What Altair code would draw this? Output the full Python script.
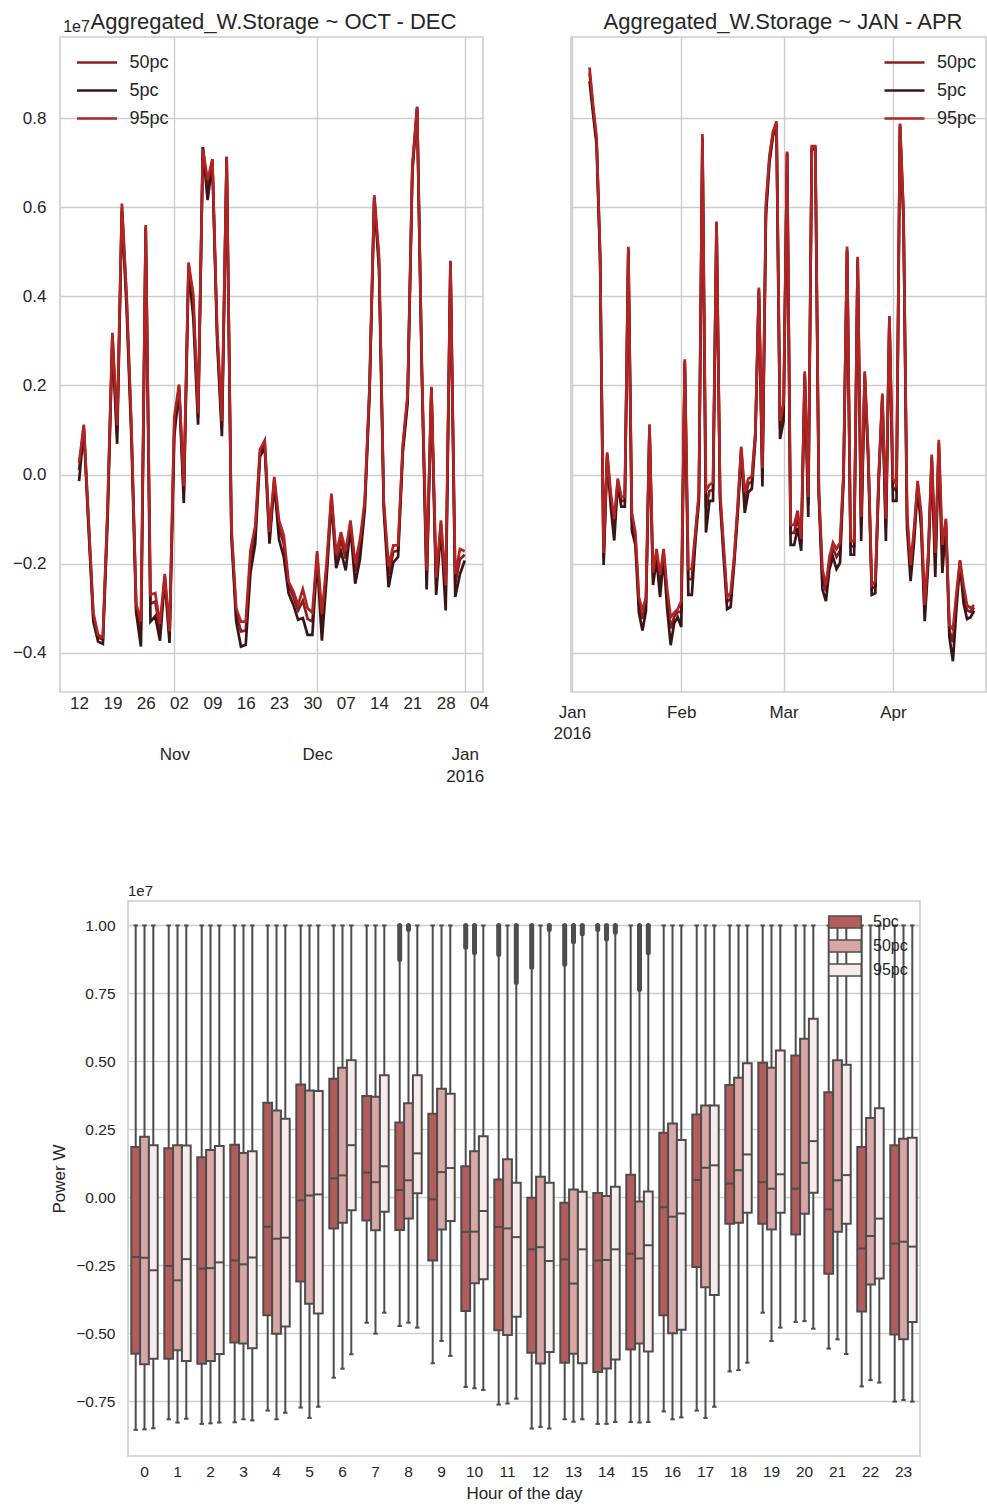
import altair as alt
import pandas as pd

FONT = "Liberation Sans"
TXT = "#262626"
GRID = "#cdcdcd"
EDGE = "#4d4d4d"
MINUS = "\u2212"

# ---------------- top panels: daily percentiles (units of 1e7 W) ----------------
series_names = ["50pc", "5pc", "95pc"]
line_colors = ["#8c1d1d", "#3b1416", "#b22424"]

oct_dates = pd.date_range("2015-10-12", "2016-01-01", freq="D").strftime("%Y-%m-%d").tolist()
oct_p95 = [0.026, 0.112, -0.10, -0.31, -0.36, -0.365, -0.07, 0.318, 0.11, 0.608,
           0.40, 0.11, -0.29, -0.33, 0.56, -0.27, -0.266, -0.335, -0.223, -0.352,
           0.129, 0.202, -0.026, 0.476, 0.403, 0.137, 0.731, 0.661, 0.708, 0.326,
           0.12, 0.714, -0.12, -0.30, -0.33, -0.33, -0.17, -0.116, 0.056, 0.077,
           -0.129, -0.005, -0.103, -0.137, -0.24, -0.262, -0.292, -0.257, -0.30, -0.31,
           -0.172, -0.313, -0.197, -0.043, -0.18, -0.129, -0.172, -0.103, -0.20, -0.146,
           -0.06, 0.197, 0.627, 0.49, -0.06, -0.206, -0.159, -0.159, 0.069, 0.18,
           0.695, 0.826, 0.24, -0.215, 0.197, -0.232, -0.103, -0.249, 0.48, -0.223,
           -0.167, -0.172]
oct_p50 = [0.01, 0.108, -0.108, -0.318, -0.366, -0.37, -0.08, 0.312, 0.095, 0.60,
           0.39, 0.10, -0.298, -0.35, 0.556, -0.29, -0.285, -0.35, -0.228, -0.362,
           0.112, 0.198, -0.04, 0.47, 0.383, 0.127, 0.733, 0.643, 0.705, 0.316,
           0.106, 0.712, -0.128, -0.312, -0.352, -0.35, -0.19, -0.132, 0.05, 0.07,
           -0.14, -0.011, -0.12, -0.156, -0.25, -0.274, -0.305, -0.283, -0.324, -0.33,
           -0.179, -0.337, -0.21, -0.05, -0.192, -0.146, -0.189, -0.11, -0.218, -0.164,
           -0.068, 0.19, 0.624, 0.478, -0.068, -0.225, -0.174, -0.17, 0.061, 0.172,
           0.689, 0.824, 0.232, -0.232, 0.194, -0.247, -0.11, -0.271, 0.478, -0.244,
           -0.19, -0.18]
oct_p5 = [-0.015, 0.10, -0.12, -0.33, -0.375, -0.38, -0.10, 0.30, 0.069, 0.59,
          0.37, 0.08, -0.31, -0.386, 0.55, -0.33, -0.318, -0.373, -0.235, -0.378,
          0.086, 0.19, -0.064, 0.46, 0.352, 0.112, 0.735, 0.616, 0.70, 0.30,
          0.086, 0.71, -0.14, -0.33, -0.386, -0.382, -0.22, -0.155, 0.04, 0.06,
          -0.155, -0.02, -0.146, -0.185, -0.266, -0.292, -0.326, -0.322, -0.36, -0.36,
          -0.19, -0.373, -0.23, -0.06, -0.21, -0.172, -0.215, -0.12, -0.245, -0.19,
          -0.08, 0.18, 0.62, 0.46, -0.08, -0.253, -0.197, -0.185, 0.05, 0.16,
          0.68, 0.82, 0.22, -0.258, 0.19, -0.27, -0.12, -0.305, 0.475, -0.275,
          -0.223, -0.193]

jan_dates = pd.date_range("2016-01-06", "2016-04-24", freq="D").strftime("%Y-%m-%d").tolist()
jan_p95 = [0.914, 0.83, 0.757, 0.50, -0.176, 0.05, -0.04, -0.10, -0.009, -0.05,
           -0.05, 0.511, -0.086, -0.13, -0.275, -0.306, -0.275, 0.113, -0.22, -0.167,
           -0.225, -0.167, -0.257, -0.32, -0.31, -0.302, -0.284, 0.259, -0.212, -0.212,
           -0.13, -0.04, 0.764, -0.036, -0.023, -0.018, 0.568, -0.04, -0.158, -0.275,
           -0.266, -0.185, -0.068, 0.063, -0.04, -0.009, -0.005, 0.095, 0.42, 0.014,
           0.608, 0.716, 0.77, 0.793, 0.12, 0.16, 0.725, -0.113, -0.113, -0.081,
           -0.144, 0.232, -0.05, 0.737, 0.737, -0.032, -0.212, -0.248, -0.185, -0.153,
           -0.167, -0.153, 0.005, 0.512, -0.149, -0.149, 0.489, -0.095, 0.232, 0.05,
           -0.248, -0.239, 0.005, 0.182, -0.099, 0.356, -0.009, -0.023, 0.788, 0.59,
           -0.086, -0.203, -0.12, -0.014, -0.086, -0.293, -0.176, 0.045, -0.176, 0.078,
           -0.158, -0.099, -0.338, -0.347, -0.266, -0.192, -0.248, -0.293, -0.30, -0.293]
jan_p50 = [0.902, 0.822, 0.75, 0.492, -0.187, 0.046, -0.052, -0.12, -0.013, -0.059,
           -0.059, 0.507, -0.102, -0.141, -0.289, -0.324, -0.287, 0.108, -0.231, -0.176,
           -0.245, -0.174, -0.274, -0.345, -0.319, -0.309, -0.307, 0.255, -0.235, -0.235,
           -0.138, -0.048, 0.758, -0.074, -0.037, -0.034, 0.565, -0.048, -0.169, -0.286,
           -0.278, -0.191, -0.077, 0.058, -0.058, -0.021, -0.016, 0.089, 0.416, -0.002,
           0.597, 0.71, 0.766, 0.787, 0.104, 0.144, 0.723, -0.131, -0.131, -0.097,
           -0.155, 0.227, -0.068, 0.734, 0.734, -0.039, -0.23, -0.262, -0.196, -0.166,
           -0.185, -0.171, -0.001, 0.507, -0.161, -0.161, 0.485, -0.117, 0.227, 0.042,
           -0.257, -0.25, -0.001, 0.177, -0.119, 0.353, -0.029, -0.037, 0.785, 0.582,
           -0.10, -0.217, -0.132, -0.02, -0.10, -0.307, -0.186, 0.039, -0.198, 0.071,
           -0.183, -0.103, -0.349, -0.376, -0.28, -0.195, -0.264, -0.305, -0.308, -0.298]
jan_p5 = [0.883, 0.81, 0.74, 0.48, -0.203, 0.04, -0.07, -0.148, -0.02, -0.072,
          -0.072, 0.50, -0.126, -0.158, -0.31, -0.35, -0.306, 0.10, -0.248, -0.19,
          -0.275, -0.185, -0.30, -0.383, -0.333, -0.32, -0.342, 0.25, -0.27, -0.27,
          -0.15, -0.06, 0.75, -0.13, -0.059, -0.059, 0.56, -0.06, -0.185, -0.302,
          -0.297, -0.20, -0.09, 0.05, -0.086, -0.04, -0.032, 0.08, 0.41, -0.027,
          0.58, 0.70, 0.76, 0.78, 0.08, 0.12, 0.72, -0.158, -0.158, -0.12,
          -0.171, 0.22, -0.095, 0.73, 0.73, -0.05, -0.257, -0.284, -0.212, -0.185,
          -0.212, -0.198, -0.01, 0.50, -0.18, -0.18, 0.48, -0.149, 0.22, 0.03,
          -0.27, -0.266, -0.01, 0.17, -0.149, 0.35, -0.059, -0.059, 0.78, 0.57,
          -0.12, -0.239, -0.15, -0.03, -0.12, -0.329, -0.20, 0.03, -0.23, 0.06,
          -0.221, -0.11, -0.365, -0.419, -0.30, -0.20, -0.288, -0.324, -0.32, -0.306]

oct_week_ticks = ["2015-10-12", "2015-10-19", "2015-10-26", "2015-11-02", "2015-11-09",
                  "2015-11-16", "2015-11-23", "2015-11-30", "2015-12-07", "2015-12-14",
                  "2015-12-21", "2015-12-28", "2016-01-04"]
oct_month_ticks = ["2015-11-01", "2015-12-01", "2016-01-01"]
jan_month_ticks = ["2016-01-01", "2016-02-01", "2016-03-01", "2016-04-01"]
y_ticks_top = [-0.4, -0.2, 0.0, 0.2, 0.4, 0.6, 0.8]

# ---------------- bottom panel: hourly box statistics (units of 1e7 W) ----------------
hours = list(range(24))
box_series = ["5pc", "50pc", "95pc"]
box_colors = ["#b35c5c", "#d9a6a6", "#f8ebeb"]

q3_5 = [0.185, 0.181, 0.148, 0.194, 0.348, 0.415, 0.436, 0.373, 0.275, 0.308, 0.115, 0.066,
        -0.001, -0.020, 0.016, 0.083, 0.238, 0.305, 0.413, 0.495, 0.522, 0.387, 0.185, 0.192]
med_5 = [-0.219, -0.252, -0.262, -0.232, -0.108, -0.011, 0.070, 0.091, 0.027, -0.007, -0.127, -0.109,
         -0.191, -0.228, -0.232, -0.207, -0.036, 0.064, 0.051, 0.056, 0.032, -0.044, -0.188, -0.170]
q1_5 = [-0.575, -0.593, -0.612, -0.534, -0.433, -0.309, -0.114, -0.085, -0.120, -0.232, -0.418, -0.489,
        -0.571, -0.608, -0.642, -0.559, -0.433, -0.256, -0.097, -0.097, -0.136, -0.281, -0.420, -0.504]
lo_5 = [-0.855, -0.816, -0.833, -0.827, -0.784, -0.773, -0.663, -0.461, -0.473, -0.610, -0.697, -0.762,
        -0.850, -0.816, -0.833, -0.826, -0.787, -0.784, -0.640, -0.424, -0.458, -0.556, -0.695, -0.751]
hi_5 = [1.0, 1.0, 1.0, 1.0, 1.0, 1.0, 1.0, 1.0, 1.0, 1.0, 1.0, 1.0,
        1.0, 1.0, 1.0, 1.0, 1.0, 1.0, 1.0, 1.0, 1.0, 1.0, 1.0, 1.0]

q3_50 = [0.223, 0.192, 0.174, 0.163, 0.320, 0.393, 0.477, 0.370, 0.346, 0.400, 0.170, 0.140,
         0.076, 0.029, 0.005, -0.015, 0.272, 0.338, 0.440, 0.477, 0.583, 0.504, 0.292, 0.216]
med_50 = [-0.222, -0.305, -0.260, -0.246, -0.152, 0.007, 0.081, 0.056, 0.063, 0.093, -0.126, -0.114,
          -0.183, -0.317, -0.230, -0.225, -0.071, 0.109, 0.100, 0.032, 0.127, 0.063, -0.142, -0.163]
q1_50 = [-0.614, -0.562, -0.602, -0.537, -0.501, -0.391, -0.093, -0.121, -0.078, -0.118, -0.316, -0.506,
         -0.611, -0.575, -0.629, -0.537, -0.500, -0.330, -0.093, -0.118, -0.060, -0.126, -0.320, -0.522]
lo_50 = [-0.853, -0.828, -0.831, -0.816, -0.816, -0.811, -0.630, -0.501, -0.461, -0.528, -0.702, -0.758,
         -0.844, -0.825, -0.833, -0.828, -0.816, -0.811, -0.635, -0.528, -0.455, -0.522, -0.672, -0.745]
hi_50 = [1.0, 1.0, 1.0, 1.0, 1.0, 1.0, 1.0, 1.0, 1.0, 1.0, 1.0, 1.0,
         1.0, 1.0, 1.0, 1.0, 1.0, 1.0, 1.0, 1.0, 1.0, 1.0, 1.0, 1.0]

q3_95 = [0.192, 0.191, 0.189, 0.170, 0.289, 0.391, 0.504, 0.449, 0.449, 0.381, 0.225, 0.054,
         0.054, 0.021, 0.039, 0.022, 0.211, 0.338, 0.493, 0.540, 0.657, 0.488, 0.328, 0.219]
med_95 = [-0.268, -0.227, -0.239, -0.221, -0.148, 0.011, 0.192, 0.115, 0.162, 0.108, -0.050, -0.146,
          -0.234, -0.191, -0.191, -0.176, -0.059, 0.118, 0.158, 0.085, 0.207, 0.082, -0.078, -0.181]
q1_95 = [-0.593, -0.602, -0.576, -0.555, -0.475, -0.427, -0.047, -0.053, 0.015, -0.087, -0.301, -0.439,
         -0.569, -0.610, -0.596, -0.567, -0.487, -0.359, -0.056, -0.056, 0.017, -0.097, -0.298, -0.458]
lo_95 = [-0.849, -0.814, -0.828, -0.820, -0.792, -0.770, -0.577, -0.424, -0.479, -0.583, -0.708, -0.740,
         -0.850, -0.816, -0.826, -0.826, -0.809, -0.770, -0.608, -0.479, -0.483, -0.576, -0.681, -0.751]
hi_95 = [1.0, 1.0, 1.0, 1.0, 1.0, 1.0, 1.0, 1.0, 1.0, 1.0, 1.0, 1.0,
         1.0, 1.0, 1.0, 1.0, 1.0, 1.0, 1.0, 1.0, 1.0, 1.0, 1.0, 1.0]

flier_hour = [8, 8, 10, 10, 11, 11, 12, 12, 13, 13, 13, 14, 14, 14, 15, 15]
flier_series = ["5pc", "50pc", "5pc", "50pc", "5pc", "95pc", "5pc", "95pc",
                "5pc", "50pc", "95pc", "5pc", "50pc", "95pc", "50pc", "95pc"]
flier_low = [0.875, 0.985, 0.92, 0.90, 0.893, 0.79, 0.846, 0.985,
             0.857, 0.94, 0.97, 0.985, 0.95, 0.975, 0.765, 0.90]
flier_high = [1.0, 1.0, 1.0, 1.0, 1.0, 1.0, 1.0, 1.0,
              1.0, 1.0, 1.0, 1.0, 1.0, 1.0, 1.0, 1.0]
y_ticks_bottom = [-0.75, -0.5, -0.25, 0.0, 0.25, 0.5, 0.75, 1.0]


# ---------------- helpers ----------------
def dt(s, hours=0):
    y, m, d = (int(p) for p in s.split("-"))
    return alt.DateTime(year=y, month=m, date=d, hours=hours, utc=True)


def long_frame(dates, cols):
    frames = [pd.DataFrame({"date": dates, "pc": name, "value": vals})
              for name, vals in zip(series_names, cols)]
    return pd.concat(frames, ignore_index=True)


def minus_fmt(spec):
    return "replace(format(datum.value, '%s'), '-', '%s')" % (spec, MINUS)


month_expr = ("utcmonth(datum.value) == 0 ? [utcFormat(datum.value, '%b'), utcFormat(datum.value, '%Y')]"
              " : utcFormat(datum.value, '%b')")

y_scale_top = alt.Scale(domain=[-0.488, 0.982], nice=False, zero=False)
PW, PH = 423, 655
RW = 415

y_axis_left = alt.Axis(values=y_ticks_top, labelExpr=minus_fmt(".1f"), grid=True,
                       labelFontSize=17, labelPadding=14, title="1e7", titleAngle=0,
                       titleX=2.7, titleY=-5.3, titleAlign="left", titleBaseline="alphabetic",
                       titleFontSize=16, titleFontWeight="normal")
y_axis_right = alt.Axis(values=y_ticks_top, labels=False, grid=True, title=None)


def line_legend(x, y):
    return alt.Legend(title=None, orient="none", legendX=x, legendY=y,
                      symbolType="M-2,0H2", symbolSize=400, symbolStrokeWidth=2.7,
                      labelFontSize=18, labelOffset=21, rowPadding=7, labelColor=TXT,
                      labelFont=FONT, padding=0)


def title_layer(dates, xscale, yaxis, text, tx):
    return alt.Chart(pd.DataFrame({"date": dates, "v": [0.0] * len(dates)})).mark_point(opacity=0).encode(
        x=alt.X("date:T", scale=xscale,
                axis=alt.Axis(orient="top", labels=False, grid=False, ticks=False, domain=False,
                              title=text, titleFontSize=22, titleFontWeight="normal",
                              titleBaseline="alphabetic", titleY=-8.5, titleX=tx,
                              titleAlign="center", titleColor=TXT, titleFont=FONT)),
        y=alt.Y("v:Q", scale=y_scale_top, axis=yaxis))


# ---------------- left panel ----------------
oct_df = long_frame(oct_dates, [oct_p50, oct_p5, oct_p95])
oct_x = alt.Scale(type="utc", domain=[dt("2015-10-08"), dt("2016-01-04", 20)], nice=False)

oct_lines = alt.Chart(oct_df).mark_line(strokeWidth=2.7).encode(
    x=alt.X("date:T", scale=oct_x,
            axis=alt.Axis(orient="bottom", values=[dt(s) for s in oct_week_ticks],
                          labelExpr="utcFormat(datum.value, '%d')", grid=False,
                          labelFontSize=17, labelPadding=3, labelFlush=False, labelOverlap=False,
                          title=None)),
    y=alt.Y("value:Q", scale=y_scale_top, axis=y_axis_left),
    color=alt.Color("pc:N", scale=alt.Scale(domain=series_names, range=line_colors),
                    legend=line_legend(25.5, 14)),
)
oct_months = alt.Chart(pd.DataFrame({"date": oct_month_ticks, "v": [0.0, 0.0, 0.0]})).mark_point(opacity=0).encode(
    x=alt.X("date:T", scale=oct_x,
            axis=alt.Axis(orient="bottom", values=[dt(s) for s in oct_month_ticks],
                          labelExpr=month_expr, grid=True, labelFontSize=17, labelPadding=54.5,
                          labelLineHeight=21.5, labelFlush=False, labelOverlap=False, title=None)),
    y=alt.Y("v:Q", scale=y_scale_top, axis=y_axis_left))
left = alt.layer(
    oct_lines, oct_months,
    title_layer(oct_month_ticks, oct_x, y_axis_left, "Aggregated_W.Storage ~ OCT - DEC", 213),
).resolve_scale(x="independent").resolve_axis(x="independent").properties(width=PW, height=PH)

# ---------------- right panel ----------------
jan_df = long_frame(jan_dates, [jan_p50, jan_p5, jan_p95])
jan_x = alt.Scale(type="utc", domain=[dt("2015-12-31", 18), dt("2016-04-27", 9)], nice=False)

jan_lines = alt.Chart(jan_df).mark_line(strokeWidth=2.7).encode(
    x=alt.X("date:T", scale=jan_x,
            axis=alt.Axis(orient="bottom", values=[dt(s) for s in jan_month_ticks],
                          labelExpr=month_expr, grid=True, labelFontSize=17, labelPadding=12,
                          labelLineHeight=21, labelFlush=False, labelOverlap=False, title=None)),
    y=alt.Y("value:Q", scale=y_scale_top, axis=y_axis_right),
    color=alt.Color("pc:N", scale=alt.Scale(domain=series_names, range=line_colors),
                    legend=line_legend(322, 14)),
)
right = alt.layer(
    jan_lines,
    title_layer(jan_month_ticks, jan_x, y_axis_right, "Aggregated_W.Storage ~ JAN - APR", 211.5),
).resolve_scale(x="independent").resolve_axis(x="independent").properties(width=RW, height=PH)

top = alt.hconcat(left, right, spacing=62).resolve_scale(
    color="independent", x="independent", y="independent")

# ---------------- bottom panel ----------------
rows = []
stats = {
    "5pc": (q1_5, med_5, q3_5, lo_5, hi_5),
    "50pc": (q1_50, med_50, q3_50, lo_50, hi_50),
    "95pc": (q1_95, med_95, q3_95, lo_95, hi_95),
}
for s in box_series:
    q1, md, q3, lo, hi = stats[s]
    for i, h in enumerate(hours):
        rows.append({"hour": h, "series": s, "q1": q1[i], "med": md[i], "q3": q3[i],
                     "lo": lo[i], "hi": hi[i]})
box_df = pd.DataFrame(rows)
flier_df = pd.DataFrame({"hour": flier_hour, "series": flier_series,
                         "flo": flier_low, "fhi": flier_high})

xb = alt.X("hour:O", scale=alt.Scale(paddingInner=0.2, paddingOuter=0.1),
           axis=alt.Axis(labelAngle=0, grid=False, labelFontSize=15.5, labelPadding=8,
                         title="Hour of the day", titleFontSize=17, titleFontWeight="normal",
                         titlePadding=6))
xo = alt.XOffset("series:N", scale=alt.Scale(domain=box_series, paddingInner=0, paddingOuter=0))
yb_scale = alt.Scale(domain=[-0.951, 1.090], nice=False, zero=False)
yb_axis = alt.Axis(values=y_ticks_bottom, labelExpr=minus_fmt(".2f"), grid=True,
                   labelFontSize=15.5, labelPadding=13, title="Power W", titleFontSize=17,
                   titleFontWeight="normal", titlePadding=7)

base = alt.Chart(box_df)
whisk = base.mark_rule(color=EDGE, strokeWidth=2).encode(
    x=xb, xOffset=xo, y=alt.Y("lo:Q", scale=yb_scale, axis=yb_axis), y2="hi:Q")
boxes = base.mark_bar(stroke=EDGE, strokeWidth=2).encode(
    x=xb, xOffset=xo, y=alt.Y("q1:Q", scale=yb_scale, axis=yb_axis), y2="q3:Q",
    fill=alt.Fill("series:N", scale=alt.Scale(domain=box_series, range=box_colors),
                  legend=alt.Legend(title=None, orient="none", legendX=709, legendY=13,
                                    symbolType="M-2.7,-1H2.7V1H-2.7Z", symbolSize=144,
                                    symbolStrokeColor=EDGE, symbolStrokeWidth=1.5,
                                    labelOffset=20, rowPadding=6, labelFontSize=16,
                                    labelColor=TXT, labelFont=FONT, padding=0)))
meds = base.mark_tick(color=EDGE, thickness=2, size=8.8, opacity=1).encode(
    x=xb, xOffset=xo, y=alt.Y("med:Q", scale=yb_scale, axis=yb_axis))
cap_lo = base.mark_tick(color=EDGE, thickness=2, size=4.4, opacity=1).encode(
    x=xb, xOffset=xo, y=alt.Y("lo:Q", scale=yb_scale, axis=yb_axis))
cap_hi = base.mark_tick(color=EDGE, thickness=2, size=4.4, opacity=1).encode(
    x=xb, xOffset=xo, y=alt.Y("hi:Q", scale=yb_scale, axis=yb_axis))
fliers = alt.Chart(flier_df).mark_rule(color=EDGE, strokeWidth=5, strokeCap="round").encode(
    x=xb, xOffset=xo, y=alt.Y("flo:Q", scale=yb_scale, axis=yb_axis), y2="fhi:Q")

box_chart = alt.layer(whisk, boxes, meds, cap_lo, cap_hi, fliers).properties(
    width=792, height=555,
    title=alt.TitleParams("1e7", anchor="start", frame="group", fontSize=15,
                          fontWeight="normal", color=TXT, font=FONT, offset=2))

spacer = alt.Chart(pd.DataFrame({"v": [0.0]})).mark_point(opacity=0).encode(
    x=alt.X("v:Q", axis=None), y=alt.Y("v:Q", axis=None)
).properties(width=8, height=20, view=alt.ViewBackground(stroke="transparent"))

bottom = alt.hconcat(spacer, box_chart, spacing=-20).resolve_scale(
    x="independent", y="independent", fill="independent")

chart = alt.vconcat(top, bottom, spacing=98).resolve_scale(
    color="independent", fill="independent", x="independent", y="independent"
).properties(
    padding={"left": 11, "top": 9, "right": 0, "bottom": 0}
).configure(font=FONT).configure_view(
    stroke=GRID, strokeWidth=1.6
).configure_axis(
    labelFont=FONT, titleFont=FONT, labelColor=TXT, titleColor=TXT,
    gridColor=GRID, gridWidth=1.4, domain=False, ticks=False
).configure_legend(labelFont=FONT, labelColor=TXT)

chart.save("out.html", embed_options={"renderer": "svg", "actions": False})
